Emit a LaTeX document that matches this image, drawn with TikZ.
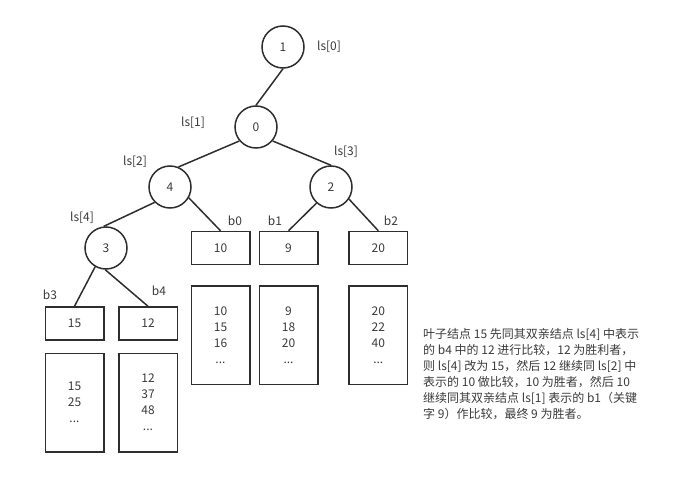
\documentclass[tikz,border=0pt]{standalone}
\usepackage{fontspec}
\setmainfont{Noto Sans CJK SC}
\definecolor{ln}{HTML}{2E2E2E}
\definecolor{txt}{HTML}{3A3A3A}
\begin{document}
\begin{tikzpicture}[x=1pt,y=-1pt,
  font=\fontsize{12}{16}\selectfont, text=txt,
  circ/.style={circle, draw=ln, line width=1.5pt, minimum size=42pt, inner sep=0pt},
  box/.style={rectangle, draw=ln, line width=1.5pt, minimum width=58.5pt, minimum height=33pt, inner sep=0pt, align=center},
  tall/.style={box, minimum height=98.5pt},
  edge/.style={draw=ln, line width=1.5pt},
  lbl/.style={inner sep=0pt}]
\useasboundingbox (0,0) rectangle (688,484);

% tree nodes
\node[circ] (n1) at (283,47) {1};
\node[circ] (n0) at (256,127) {0};
\node[circ] (n4) at (170,187) {4};
\node[circ] (n2) at (331,187) {2};
\node[circ] (n3) at (106,248) {3};

% leaf boxes
\node[box] (b10) at (220.5,248) {10};
\node[box] (b9)  at (288.5,248) {9};
\node[box] (b20) at (378.3,248) {20};
\node[box] (b15) at (74.5,323.5) {15};
\node[box] (b12) at (148,323.5) {12};

% run boxes
\node[tall] (r0) at (220.5,335) {10\\15\\16\\...};
\node[tall] (r1) at (288.5,335) {9\\18\\20\\...};
\node[tall] (r2) at (378.3,335) {20\\22\\40\\...};
\node[tall] (r3) at (74.5,402.5) {15\\25\\...};
\node[tall] (r4) at (148,402.5) {12\\37\\48\\...};

% labels
\node[lbl] (l0) at (329,47) {ls[0]};
\node[lbl] (l1) at (193,123) {ls[1]};
\node[lbl] (l2) at (135,162) {ls[2]};
\node[lbl] (l3) at (346,152) {ls[3]};
\node[lbl] (l4) at (82,218) {ls[4]};
\node[lbl] (lb0) at (235,221) {b0};
\node[lbl] (lb1) at (275,221) {b1};
\node[lbl] (lb2) at (391,221) {b2};
\node[lbl] (lb3) at (50,295) {b3};
\node[lbl] (lb4) at (159,291) {b4};

% edges
\draw[edge] (n1.south) -- (n0.north);
\draw[edge] (n0.220) -- (n4.67);
\draw[edge] (n0.320) -- (n2.north);
\draw[edge] (n4.225) -- (n3.96);
\draw[edge] (n4.330) -- (b10.north);
\draw[edge] (n2.228) -- (b9.north);
\draw[edge] (n2.326) -- (b20.north);
\draw[edge] (n3.240) -- (b15.north);
\draw[edge] (n3.268) -- (b12.north);

% explanation
\node[lbl, anchor=west, align=left, font=\fontsize{12}{16}\selectfont] (note) at (423,374)
{叶子结点 15 先同其双亲结点 ls[4] 中表示\\
的 b4 中的 12 进行比较，12 为胜利者，\\
则 ls[4] 改为 15，然后 12 继续同 ls[2] 中\\
表示的 10 做比较，10 为胜者，然后 10\\
继续同其双亲结点 ls[1] 表示的 b1（关键\\
字 9）作比较，最终 9 为胜者。};
\end{tikzpicture}
\end{document}
